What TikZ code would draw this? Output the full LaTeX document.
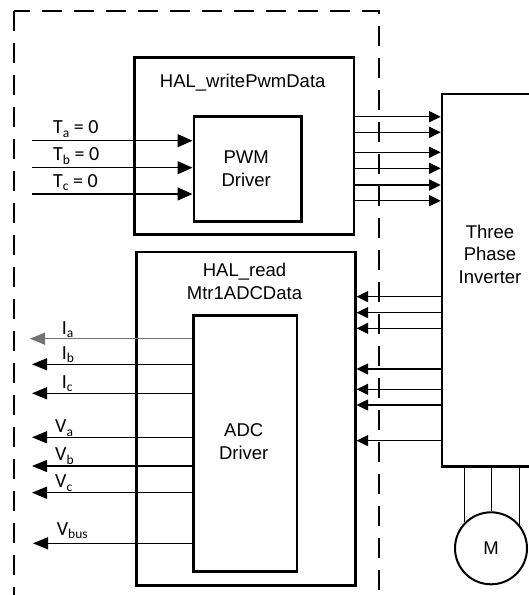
\documentclass[tikz,border=0pt]{standalone}
\usepackage{fontspec}
\setmainfont{Liberation Sans}
\newfontfamily\labfont{Carlito}
\usetikzlibrary{arrows.meta}
\newcommand{\lbl}[2]{#1\raisebox{-3.5pt}{\fontsize{13.5}{14}\selectfont #2}}
\begin{document}
\begin{tikzpicture}[x=1pt,y=-1pt,
  box/.style={draw, line width=2.6pt, inner sep=0pt, anchor=north west},
  txt/.style={font=\fontsize{18.5}{22.5}\selectfont, align=center, inner sep=0pt},
  lab/.style={anchor=base west, inner sep=0pt, font=\labfont\fontsize{20}{24}\selectfont},
  inarr/.style={line width=1.2pt, -{Triangle[length=15pt,width=13pt]}},
  outarr/.style={line width=1.2pt, -{Triangle[length=15pt,width=12pt]}},
  invarr/.style={line width=1.2pt, -{Triangle[length=11.5pt,width=11pt]}},
  frame/.style={line width=2.4pt, dash pattern=on 20pt off 12pt},
  wire/.style={line width=1pt}
]
\useasboundingbox (0,0) rectangle (529,595);
\clip (0,0) rectangle (529,595);
\fill[white] (0,0) rectangle (529,595);

% dashed frame
\draw[frame] (14,11) -- (14,600);
\draw[frame, dash phase=4pt] (14,11) -- (379,11) -- (379,600);

% boxes
\node[box, minimum width=219.5, minimum height=177] (hw) at (133,56) {};
\node[box, minimum width=107.5, minimum height=105] (pwm) at (192.5,115) {};
\node[box, minimum width=219, minimum height=333.5] (hr) at (135,250.5) {};
\node[box, minimum width=103.5, minimum height=256] (adc) at (192,314) {};
\node[box, minimum width=130, minimum height=372.3] (inv) at (440.7,92.7) {};
\node[draw, circle, line width=2pt, minimum size=72, inner sep=0pt, font=\fontsize{18.5}{22.5}\selectfont] (motor) at (491,548.3) {M};

% box texts
\node[txt] (hwtxt) at (242.7,82.6) {HAL\_writePwmData};
\node[txt] (pwmtxt) at (246.2,168.5) {PWM\\Driver};
\node[txt] (hrtxt) at (244.5,281.5) {HAL\_read\\Mtr1ADCData};
\node[txt] (adctxt) at (243.7,441.5) {ADC\\Driver};
\node[txt] (invtxt) at (490,254) {Three\\Phase\\Inverter};

% PWM inputs
\coordinate (ta) at (32,140.7);
\coordinate (tb) at (32,167.7);
\coordinate (tc) at (32,194);
\draw[inarr] (ta) -- (pwm.west |- ta);
\draw[inarr] (tb) -- (pwm.west |- tb);
\draw[inarr] (tc) -- (pwm.west |- tc);
\node[lab] (la) at (53,133.7) {\lbl{T}{a} = 0};
\node[lab] (lb) at (53,160.5) {\lbl{T}{b} = 0};
\node[lab] (lc) at (53,187) {\lbl{T}{c} = 0};

% PWM outputs to inverter
\foreach \y in {116.7,132.3,152.3,168.3,185,200.7}{
  \draw[invarr] (hw.east |- 0,\y) -- (inv.west |- 0,\y);
}

% inverter feedback to ADC
\foreach \y in {296.7,312.7,328.3,369,389.3,405,440.7}{
  \draw[invarr] (inv.west |- 0,\y) -- (hr.east |- 0,\y);
}

% ADC outputs
\coordinate (oa) at (30,338.7);
\coordinate (ob) at (32,364.3);
\coordinate (oc) at (32,393.3);
\coordinate (ova) at (32,437.3);
\coordinate (ovb) at (32,466);
\coordinate (ovc) at (32,492.7);
\coordinate (ovbus) at (33,543.3);
\draw[outarr, color=black!55] (adc.west |- oa) -- (oa);
\draw[outarr] (adc.west |- ob) -- (ob);
\draw[outarr] (adc.west |- oc) -- (oc);
\draw[outarr] (adc.west |- ova) -- (ova);
\draw[outarr] (adc.west |- ovb) -- (ovb);
\draw[outarr] (adc.west |- ovc) -- (ovc);
\draw[outarr] (adc.west |- ovbus) -- (ovbus);
\node[lab] (lia) at (61.7,334.3) {\lbl{I}{a}};
\node[lab] (lib) at (61.7,359.3) {\lbl{I}{b}};
\node[lab] (lic) at (61.7,388.3) {\lbl{I}{c}};
\node[lab] (lva) at (55,432.7) {\lbl{V}{a}};
\node[lab] (lvb) at (55,460.7) {\lbl{V}{b}};
\node[lab] (lvc) at (55,487.5) {\lbl{V}{c}};
\node[lab] (lvbus) at (56.7,535) {\lbl{V}{bus}};

% motor wires
\draw[wire] (motor.135 |- inv.south) -- (motor.135);
\draw[wire] (motor.north |- inv.south) -- (motor.north);
\draw[wire] (motor.39 |- inv.south) -- (motor.39);
\end{tikzpicture}
\end{document}
